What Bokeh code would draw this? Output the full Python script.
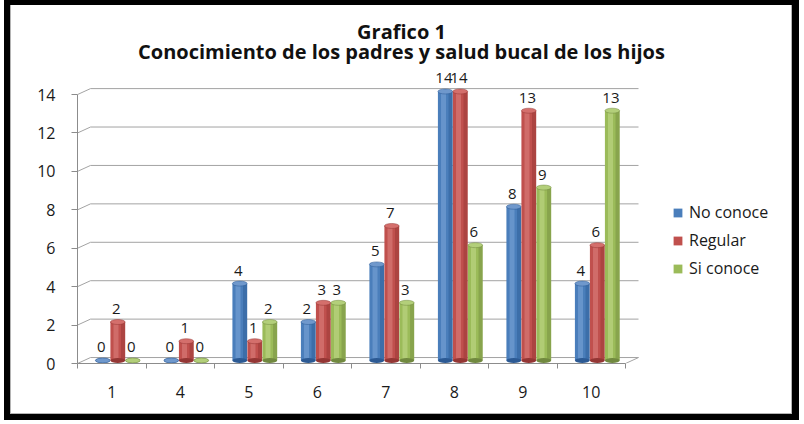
from bokeh.plotting import figure
from bokeh.models import (ColumnDataSource, Range1d, FixedTicker, LabelSet, Label,
                          Legend, LegendItem)
from bokeh.core.properties import value
from bokeh.embed import file_html
from bokeh.resources import INLINE

# ---- data ----
categories = ["1", "4", "5", "6", "7", "8", "9", "10"]
no_conoce = [0, 0, 4, 2, 5, 14, 8, 4]
regular = [2, 1, 1, 3, 7, 14, 13, 6]
si_conoce = [0, 0, 2, 3, 3, 6, 9, 13]
series_names = ["No conoce", "Regular", "Si conoce"]
y_ticks = [0, 2, 4, 6, 8, 10, 12, 14]
title_1 = "Grafico 1"
title_2 = "Conocimiento de los padres y salud bucal de los hijos"

# ---- styling ----
FONT = "Open Sans"
base_cols = ["#4a7ebb", "#c0504d", "#9bbb59"]
light_cols = ["#7ea6d8", "#dc8481", "#c2da8c"]
dark_cols = ["#2c5a94", "#943634", "#71893f"]
top_cols = ["#6f98cc", "#d46f6c", "#b3cf7a"]
offsets = [-0.131, 0.088, 0.307]
bw = 0.215
shift = 0.16          # depth shift of bars (3-D look)
dx, dy = 0.19, 0.31   # depth of the back wall
cap_h = 0.26

W, H = 804, 424
ML, MB = 77, 61
n = len(categories)
frame_bottom = H - MB

p = figure(width=W, height=H, output_backend="svg", toolbar_location=None,
           x_range=Range1d(0, (W - ML) / 68.5), y_range=Range1d(0, frame_bottom / 19.21),
           min_border_left=ML, min_border_right=0, min_border_top=0,
           min_border_bottom=MB)
p.outline_line_color = None
p.xgrid.visible = False
p.ygrid.visible = False
p.background_fill_color = None
p.border_fill_color = None
p.styles = {"box-shadow": ", ".join([
    "inset 4px 0 0 0 #ffffff", "inset -5px 0 0 0 #ffffff", "inset 0 -4px 0 0 #ffffff",
    "inset 10px 0 0 0 #000000", "inset -12px 0 0 0 #000000",
    "inset 0 5px 0 0 #000000", "inset 0 -10px 0 0 #000000",
    "inset 11px 0 0 0 #b4b4b4", "inset -13px 0 0 0 #b4b4b4",
    "inset 0 -11px 0 0 #b4b4b4"]),
    "background-color": "white"}

# back wall grid lines (slanted into depth)
gx, gy = [], []
for v in y_ticks:
    gx.append([0, dx, n + dx])
    gy.append([v, v + dy, v + dy])
gx.append([n, n + dx])
gy.append([0, dy])
p.multi_line(gx, gy, line_color="#a3a3a3", line_width=1)

# bars as cylinders
legend_items = []
for k, (name, vals) in enumerate(zip(series_names, [no_conoce, regular, si_conoce])):
    xs = [i + 0.5 + offsets[k] for i in range(n)]
    src = ColumnDataSource(dict(x=xs, top=[v + shift for v in vals],
                                bottom=[shift] * n, val=[str(v) for v in vals],
                                xl=[x - 0.02 for x in xs],
                                xh=[x - bw * 0.12 for x in xs],
                                xd=[x + bw * 0.36 for x in xs]))
    r = p.vbar(x="x", top="top", bottom="bottom", width=bw, source=src,
               fill_color=base_cols[k], line_color=None)
    p.vbar(x="xh", top="top", bottom="bottom", width=bw * 0.34, source=src,
           fill_color=light_cols[k], fill_alpha=0.55, line_color=None)
    p.vbar(x="xd", top="top", bottom="bottom", width=bw * 0.28, source=src,
           fill_color=dark_cols[k], fill_alpha=0.45, line_color=None)
    p.ellipse(x="x", y="bottom", width=bw, height=cap_h, source=src,
              fill_color=dark_cols[k], line_color=None)
    p.ellipse(x="x", y="top", width=bw, height=cap_h, source=src,
              fill_color=top_cols[k], line_color=dark_cols[k], line_width=0.5)
    labels = LabelSet(x="xl", y="top", text="val", source=src, y_offset=13,
                      text_align="center", text_baseline="middle",
                      text_font=value(FONT), text_font_size="15px",
                      text_color="#1a1a1a")
    p.add_layout(labels)
    legend_items.append(LegendItem(label=name, renderers=[r]))

# axes
p.yaxis.ticker = FixedTicker(ticks=y_ticks)
p.yaxis.bounds = (0, 14)
p.yaxis.axis_line_color = "#8c8c8c"
p.yaxis.major_tick_line_color = "#8c8c8c"
p.yaxis.major_tick_out = 6
p.yaxis.major_tick_in = 0
p.yaxis.minor_tick_line_color = None
p.yaxis.major_label_standoff = 16
p.yaxis.major_label_text_font = FONT
p.yaxis.major_label_text_font_size = "16px"
p.yaxis.major_label_text_color = "#1a1a1a"

p.xaxis.ticker = FixedTicker(ticks=[i + 0.5 for i in range(n)],
                             minor_ticks=list(range(n + 1)))
p.xaxis.bounds = (0, n)
p.xaxis.major_label_overrides = {i + 0.5: c for i, c in enumerate(categories)}
p.xaxis.axis_line_color = "#8c8c8c"
p.xaxis.major_tick_line_color = None
p.xaxis.minor_tick_line_color = "#8c8c8c"
p.xaxis.minor_tick_out = 5
p.xaxis.minor_tick_in = 0
p.xaxis.major_tick_out = 0
p.xaxis.major_tick_in = 0
p.xaxis.major_label_standoff = 17
p.xaxis.major_label_text_font = FONT
p.xaxis.major_label_text_font_size = "16px"
p.xaxis.major_label_text_color = "#1a1a1a"

# legend
legend = Legend(items=legend_items, location=(595, 84), orientation="vertical",
                glyph_width=11, glyph_height=11, label_height=20, spacing=6,
                padding=0, margin=0, border_line_color=None,
                background_fill_alpha=0, label_standoff=6,
                label_text_font=FONT, label_text_font_size="16px",
                label_text_color="#1a1a1a")
p.add_layout(legend)

# titles
p.add_layout(Label(x=401 - ML, y=frame_bottom - 31, x_units="screen", y_units="screen",
                   text=title_1, text_align="center", text_baseline="alphabetic",
                   text_font=FONT, text_font_style="bold", text_font_size="20px",
                   text_color="#111111"))
p.add_layout(Label(x=401 - ML, y=frame_bottom - 51, x_units="screen", y_units="screen",
                   text=title_2, text_align="center", text_baseline="alphabetic",
                   text_font=FONT, text_font_style="bold", text_font_size="20px",
                   text_color="#111111"))

open("out.html", "w").write(file_html(p, INLINE))
